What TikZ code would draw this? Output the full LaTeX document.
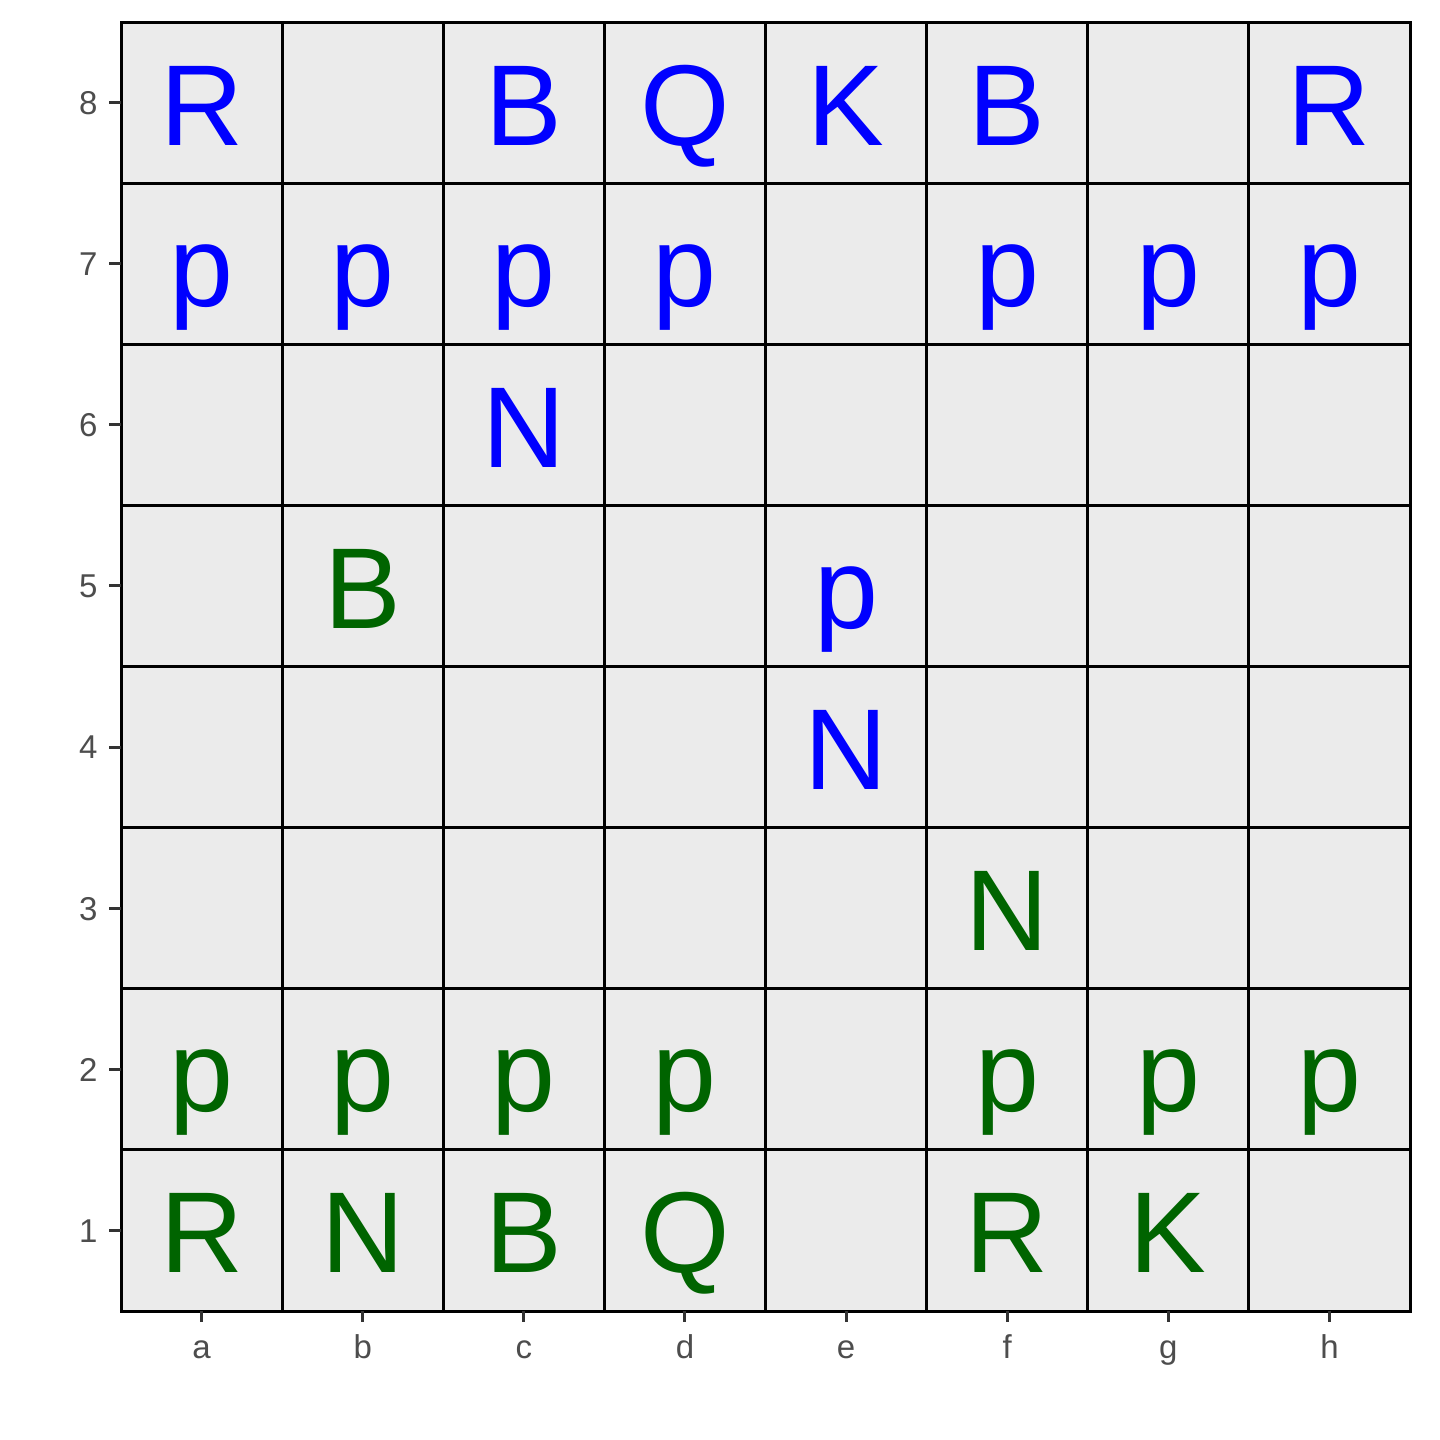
\documentclass[tikz,border=0pt]{standalone}
\usepackage{fontspec}
\setmainfont{Liberation Sans}
\definecolor{cellbg}{HTML}{EBEBEB}
\definecolor{axisgray}{HTML}{4D4D4D}
\definecolor{tickgray}{HTML}{333333}
\definecolor{pblue}{HTML}{0000FF}
\definecolor{pgreen}{HTML}{006400}
\begin{document}
\begin{tikzpicture}[x=0.5pt,y=-0.5pt,
  cell/.style={draw=black,fill=cellbg,line width=1.5pt},
  piece/.style={anchor=base,inner sep=0pt,font=\fontsize{57.5}{60}\selectfont},
  ylab/.style={anchor=east,inner sep=0pt,text=axisgray,font=\fontsize{16.5}{18}\selectfont},
  xlab/.style={anchor=base,inner sep=0pt,text=axisgray,font=\fontsize{16.5}{18}\selectfont},
  tick/.style={draw=tickgray,line width=1.5pt}]
\useasboundingbox (0,0) rectangle (1440,1440);
% cells
\foreach \c in {1,...,8}{
  \foreach \r in {1,...,8}{
    \path[cell] ({121+(\c-1)*161.125},{22+(8-\r)*161.125}) rectangle ({121+\c*161.125},{22+(9-\r)*161.125});
  }
}
% ticks and labels
\foreach \r in {1,...,8}{
  \coordinate (yt\r a) at (109,{22+(8.5-\r)*161.125});
  \coordinate (yt\r b) at (121,{22+(8.5-\r)*161.125});
  \draw[tick] (yt\r a) -- (yt\r b);
  \node[ylab] (yl\r) at (98,{22+(8.5-\r)*161.125+0.5}) {\r};
}
\foreach \c/\l in {1/a,2/b,3/c,4/d,5/e,6/f,7/g,8/h}{
  \coordinate (xt\c a) at ({121+(\c-0.5)*161.125},1311);
  \coordinate (xt\c b) at ({121+(\c-0.5)*161.125},1322);
  \draw[tick] (xt\c a) -- (xt\c b);
  \node[xlab] (xl\c) at ({121+(\c-0.5)*161.125},1358) {\l};
}
% pieces
\foreach \c/\r/\p/\col in {
  1/8/R/pblue,3/8/B/pblue,4/8/Q/pblue,5/8/K/pblue,6/8/B/pblue,8/8/R/pblue,
  1/7/p/pblue,2/7/p/pblue,3/7/p/pblue,4/7/p/pblue,6/7/p/pblue,7/7/p/pblue,8/7/p/pblue,
  3/6/N/pblue,
  2/5/B/pgreen,5/5/p/pblue,
  5/4/N/pblue,
  6/3/N/pgreen,
  1/2/p/pgreen,2/2/p/pgreen,3/2/p/pgreen,4/2/p/pgreen,6/2/p/pgreen,7/2/p/pgreen,8/2/p/pgreen,
  1/1/R/pgreen,2/1/N/pgreen,3/1/B/pgreen,4/1/Q/pgreen,6/1/R/pgreen,7/1/K/pgreen}{
  \node[piece,text=\col] (pc\c\r) at ({121+(\c-0.5)*161.125},{22+(8.5-\r)*161.125+42.5}) {\p};
}
\end{tikzpicture}
\end{document}
